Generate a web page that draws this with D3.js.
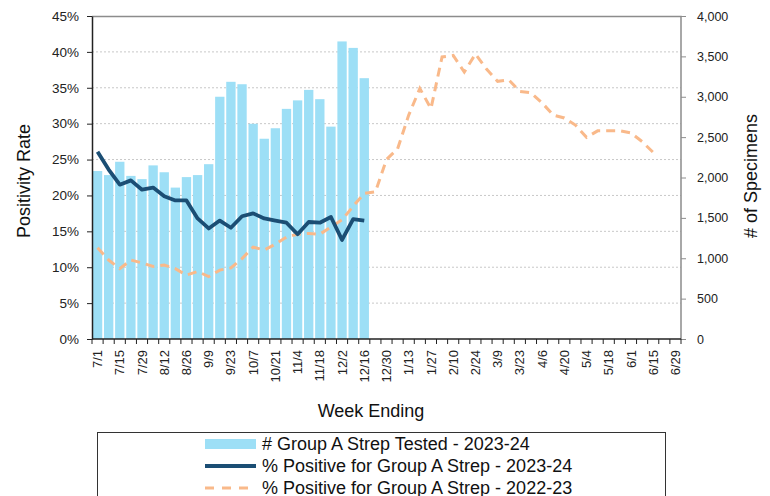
<!DOCTYPE html>
<html>
<head>
<meta charset="utf-8">
<script src="https://cdn.jsdelivr.net/npm/d3@7"></script>
<style>
  body { margin: 0; background: #fff; }
  svg { font-family: "Liberation Sans", Arial, sans-serif; }
</style>
</head>
<body>
<svg id="chart" width="770" height="496"></svg>
<script>
// week ending dates, 2023-24 season
var weeks = ["7/1","7/8","7/15","7/22","7/29","8/5","8/12","8/19","8/26","9/2","9/9","9/16","9/23","9/30",
  "10/7","10/14","10/21","10/28","11/4","11/11","11/18","11/25","12/2","12/9","12/16","12/23","12/30",
  "1/6","1/13","1/20","1/27","2/3","2/10","2/17","2/24","3/2","3/9","3/16","3/23","3/30",
  "4/6","4/13","4/20","4/27","5/4","5/11","5/18","5/25","6/1","6/8","6/15","6/22","6/29"];

// # Group A Strep tested - 2023-24
var tested = [2080,2030,2195,2020,1980,2150,2065,1875,2005,2030,2165,3000,3185,3155,
  2665,2480,2610,2850,2955,3085,2970,2630,3685,3605,3230];

// % positive - 2023-24
var pos2324 = [26.1,23.6,21.5,22.1,20.8,21.1,19.9,19.3,19.3,16.8,15.4,16.5,15.5,17.1,
  17.5,16.8,16.5,16.2,14.6,16.3,16.2,17.0,13.8,16.7,16.5];

// % positive - 2022-23
var pos2223 = [12.7,11.0,9.8,11.0,10.6,10.1,10.3,9.8,8.9,9.4,8.7,9.6,9.9,11.2,12.8,12.4,13.2,14.2,
  14.6,14.7,14.6,15.6,16.6,18.5,20.3,20.5,25.0,26.5,31.2,34.9,32.1,39.3,39.5,37.2,39.7,37.6,
  35.9,36.1,34.5,34.3,32.9,31.2,30.8,29.8,28.1,29.0,29.0,29.0,28.7,27.5,26.0];

var leftTicks = [0,5,10,15,20,25,30,35,40,45];
var rightTicks = [0,500,1000,1500,2000,2500,3000,3500,4000];

var legendItems = ["# Group A Strep Tested - 2023-24",
  "% Positive for Group A Strep - 2023-24",
  "% Positive for Group A Strep - 2022-23"];

var barColor = "#9ddff6", navy = "#1b4e74", peach = "#f9b98a";

var margin = {top: 16, left: 92, right: 89, bottom: 157};
var width = 770 - margin.left - margin.right;
var height = 496 - margin.top - margin.bottom;

var svg = d3.select("#chart");
var g = svg.append("g").attr("transform", "translate(" + margin.left + "," + margin.top + ")");

var x = d3.scaleBand().domain(d3.range(weeks.length)).range([0, width])
    .paddingInner(0.16).paddingOuter(0.08);
var step = x.step();
var yL = d3.scaleLinear().domain([0, 45]).range([height, 0]);
var yR = d3.scaleLinear().domain([0, 4000]).range([height, 0]);

// gridlines
g.selectAll(".grid").data(leftTicks.slice(1, -1)).enter().append("line")
  .attr("x1", 0).attr("x2", width)
  .attr("y1", function(d){ return yL(d); }).attr("y2", function(d){ return yL(d); })
  .style("stroke", "#c8c8c8").style("stroke-dasharray", "2,2").style("stroke-width", 1);

// frame top + right (grey)
g.append("path").attr("d", "M0,0.5H" + width + "V" + height)
  .style("fill", "none").style("stroke", "#8c8c8c").style("stroke-width", 1.5);

// bars
g.selectAll(".bar").data(tested).enter().append("rect")
  .attr("x", function(d, i){ return x(i); })
  .attr("width", x.bandwidth())
  .attr("y", function(d){ return yR(d); })
  .attr("height", function(d){ return height - yR(d); })
  .style("fill", barColor);

var cx = function(d, i){ return x(i) + x.bandwidth()/2; };

g.append("path").datum(pos2223)
  .attr("d", d3.line().x(cx).y(function(d){ return yL(d); }))
  .style("fill", "none").style("stroke", peach).style("stroke-width", 3)
  .style("stroke-dasharray", "9,6");

g.append("path").datum(pos2324)
  .attr("d", d3.line().x(cx).y(function(d){ return yL(d); }))
  .style("fill", "none").style("stroke", navy).style("stroke-width", 3.8)
  .style("stroke-linejoin", "round");

// left axis
var axL = g.append("g").call(d3.axisLeft(yL).tickValues(leftTicks)
    .tickFormat(function(d){ return d + "%"; }).tickSize(5).tickSizeOuter(0).tickPadding(8));
axL.selectAll("text").style("font-size", "13.5px").style("fill", "#222");
axL.select(".domain").style("stroke", "#222").style("stroke-width", 1.5);
axL.selectAll(".tick line").style("stroke", "#222");

// right axis
var axR = g.append("g").attr("transform", "translate(" + width + ",0)")
  .call(d3.axisRight(yR).tickValues(rightTicks).tickFormat(d3.format(",")).tickSize(5).tickSizeOuter(0).tickPadding(11));
axR.selectAll("text").style("font-size", "12.5px").style("fill", "#222");
axR.select(".domain").remove();
axR.selectAll(".tick line").style("stroke", "#8c8c8c");

// bottom axis: labels at every other week, ticks between weeks
var axB = g.append("g").attr("transform", "translate(0," + height + ")")
  .call(d3.axisBottom(x).tickValues(d3.range(0, weeks.length, 2))
    .tickFormat(function(i){ return weeks[i]; }).tickSize(0).tickSizeOuter(0));
axB.select(".domain").remove();
axB.selectAll("text")
  .attr("transform", "rotate(-90)")
  .attr("x", -11).attr("y", 0).attr("dy", "0.35em")
  .style("text-anchor", "end").style("font-size", "13px").style("fill", "#222");
axB.selectAll(".edge").data(d3.range(weeks.length + 1)).enter().append("line")
  .attr("x1", function(i){ return i * step; }).attr("x2", function(i){ return i * step; })
  .attr("y1", 0).attr("y2", 5).style("stroke", "#222");
axB.append("line").attr("x1", 0).attr("x2", width).style("stroke", "#222").style("stroke-width", 1.5);

// axis titles
svg.append("text").attr("transform", "translate(30,181) rotate(-90)")
  .style("text-anchor", "middle").style("font-size", "18px").style("fill", "#111").text("Positivity Rate");
svg.append("text").attr("transform", "translate(757,176) rotate(-90)")
  .style("text-anchor", "middle").style("font-size", "18px").style("fill", "#111").text("# of Specimens");
svg.append("text").attr("x", 371).attr("y", 416.5)
  .style("text-anchor", "middle").style("font-size", "18px").style("fill", "#111").text("Week Ending");

// legend
var lg = svg.append("g");
lg.append("rect").attr("x", 97.5).attr("y", 432.5).attr("width", 568).attr("height", 80)
  .style("fill", "#fff").style("stroke", "#333").style("stroke-width", 1);
var rows = lg.selectAll(".row").data(legendItems).enter().append("g")
  .attr("transform", function(d, i){ return "translate(205," + (444 + i*22) + ")"; });
rows.filter(function(d, i){ return i === 0; }).append("rect")
  .attr("x", 0).attr("y", -5).attr("width", 51).attr("height", 10).style("fill", barColor);
rows.filter(function(d, i){ return i === 1; }).append("line")
  .attr("x1", 0).attr("x2", 51).style("stroke", navy).style("stroke-width", 3.8);
rows.filter(function(d, i){ return i === 2; }).append("line")
  .attr("x1", 0).attr("x2", 51).style("stroke", peach).style("stroke-width", 3)
  .style("stroke-dasharray", "9,8");
rows.append("text").attr("x", 57).attr("dy", "0.35em")
  .style("font-size", "18px").style("fill", "#111").text(function(d){ return d; });
</script>
</body>
</html>
